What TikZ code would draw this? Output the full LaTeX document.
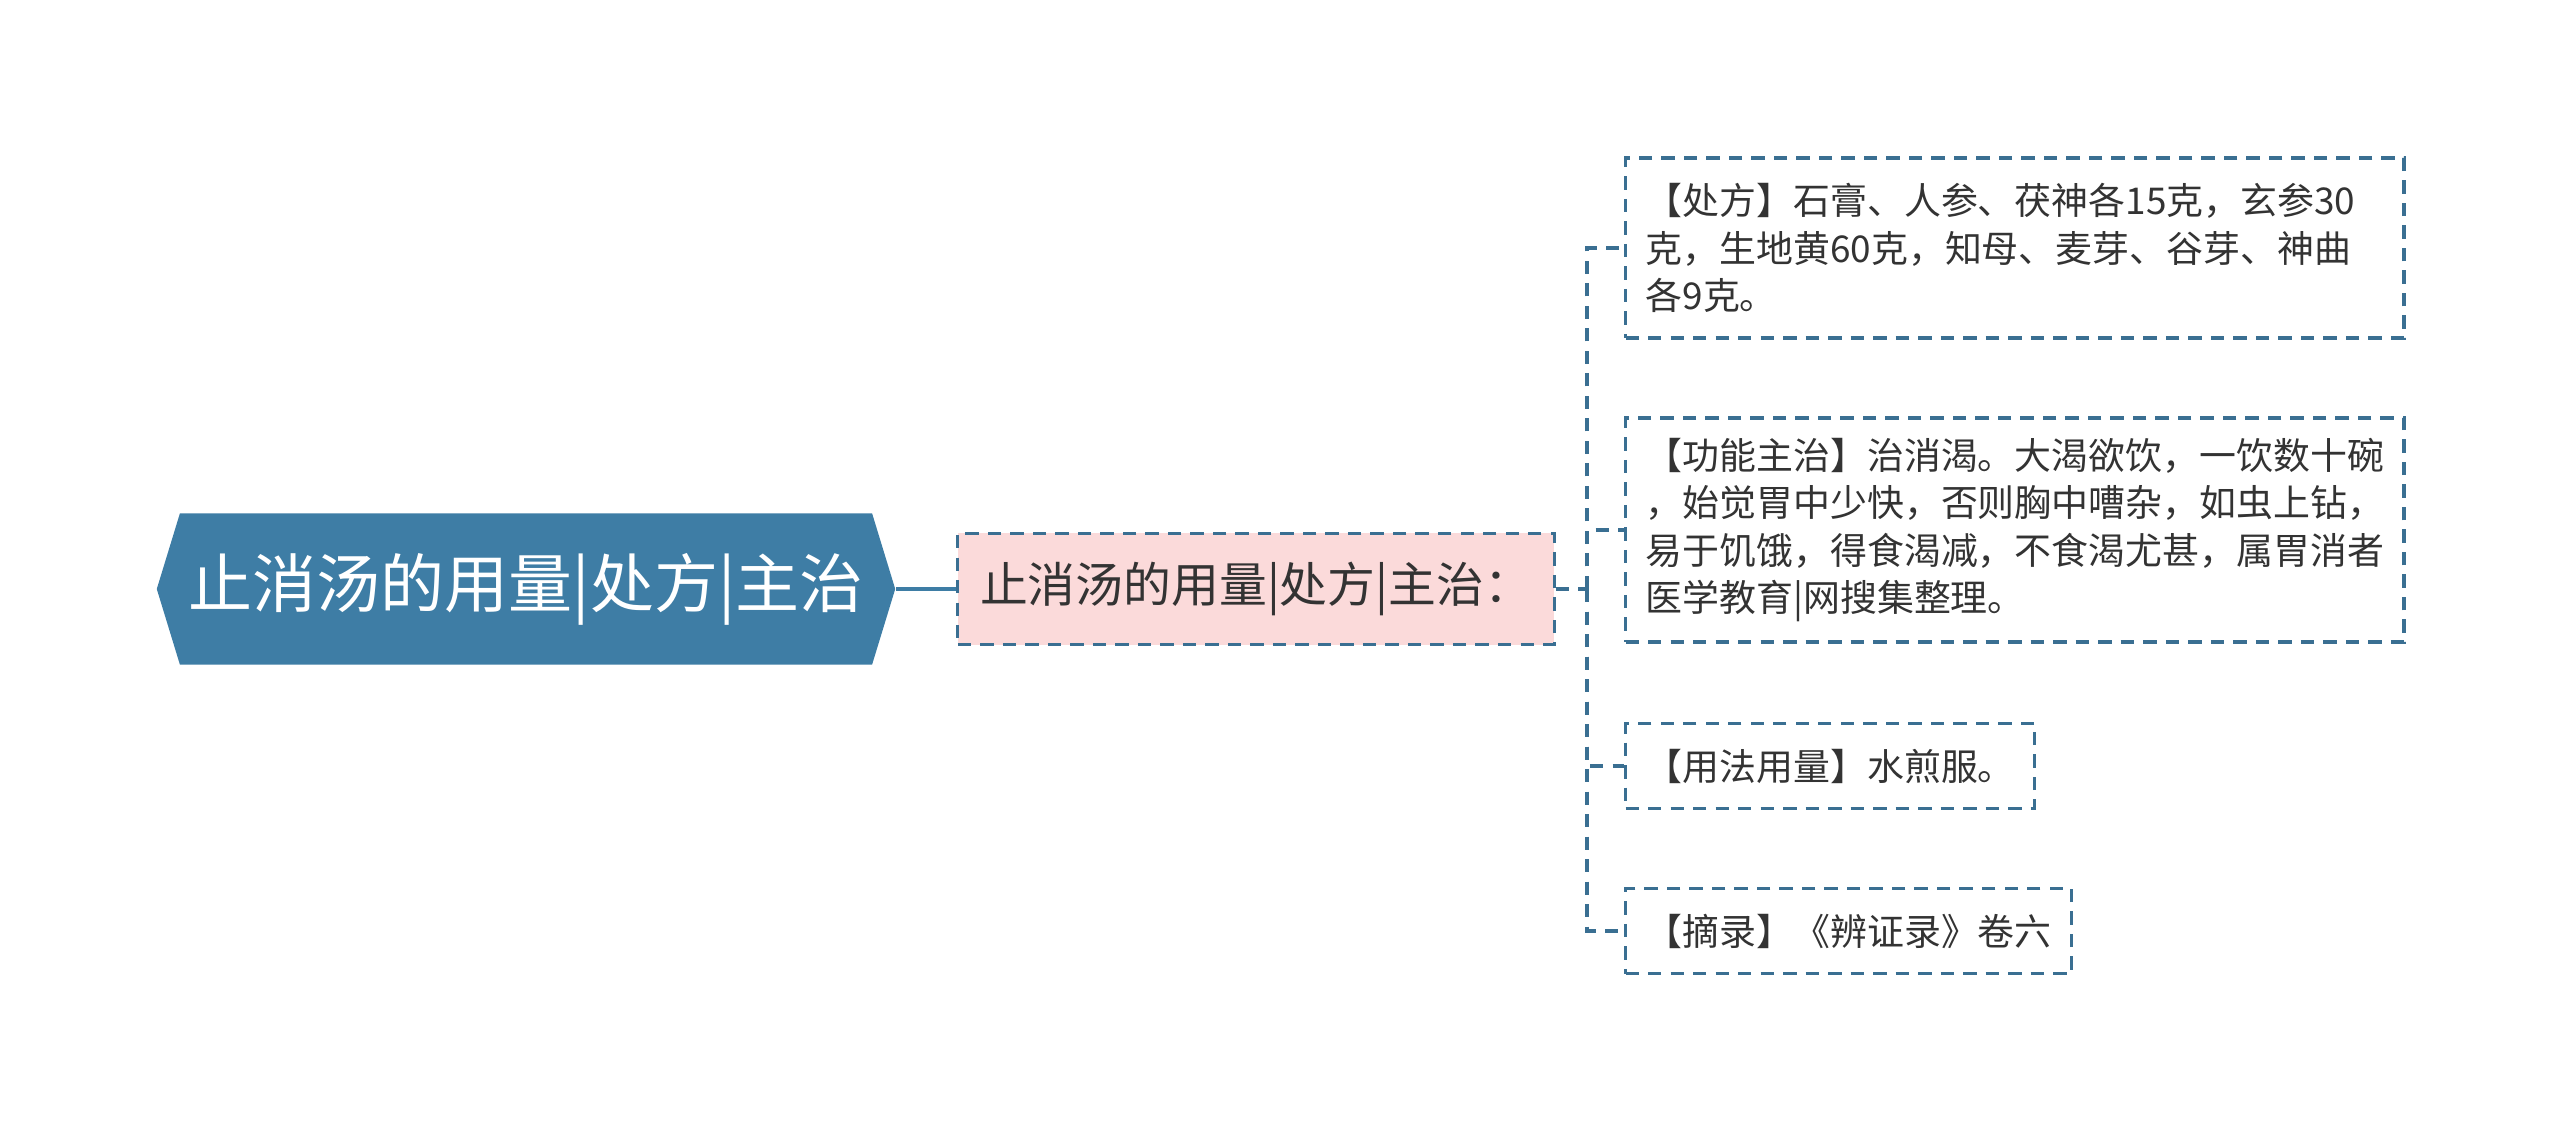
\documentclass[tikz,border=0pt]{standalone}
\usepackage{fontspec}
\newfontfamily\cjk{Noto Sans CJK SC}
\usetikzlibrary{shapes.symbols}
\definecolor{hexblue}{RGB}{62,125,165}
\definecolor{dashblue}{RGB}{58,111,146}
\definecolor{subpink}{RGB}{251,218,218}
\definecolor{inkgray}{RGB}{51,51,51}
\begin{document}
\begin{tikzpicture}[x=0.01cm,y=-0.01cm,
                    rootbox/.style={signal,signal to=west and east,signal pointer angle=146,fill=hexblue,text=white,font=\cjk\fontsize{18.2}{22}\selectfont,minimum width=7.38cm,minimum height=1.51cm,inner sep=0pt},
                    subbox/.style={draw=dashblue,line width=0.9pt,dash pattern=on 3.8pt off 2.6pt,fill=subpink,text=inkgray,font=\cjk\fontsize{13.6}{16}\selectfont,minimum width=5.96cm,minimum height=1.11cm},
                    leafbox/.style={draw=dashblue,line width=0.9pt,dash pattern=on 3.8pt off 2.6pt,text=inkgray,font=\cjk\fontsize{10.5}{13.4}\selectfont,align=left,anchor=west,inner xsep=0.2cm,minimum height=0.85cm},
                    link/.style={draw=dashblue,line width=0.9pt,dash pattern=on 3.8pt off 2.6pt}]
    \useasboundingbox (0,0) rectangle (2560,1131);
    \node[rootbox] at (526,589) (root) {止消汤的用量|处方|主治};
    \node[subbox] at (1256,589) (sub) {止消汤的用量|处方|主治：};
    \node[leafbox,text width=7.38cm,minimum height=1.80cm] at (1624,248) (pf) {【处方】石膏、人参、茯神各15克，玄参30\\克，生地黄60克，知母、麦芽、谷芽、神曲\\各9克。};
    \node[leafbox,text width=7.38cm,minimum height=2.24cm] at (1624,530) (gn) {【功能主治】治消渴。大渴欲饮，一饮数十碗\\，始觉胃中少快，否则胸中嘈杂，如虫上钻，\\易于饥饿，得食渴减，不食渴尤甚，属胃消者\\医学教育|网搜集整理。};
    \node[leafbox] at (1624,766) (yf) {【用法用量】水煎服。};
    \node[leafbox] at (1624,931) (zl) {【摘录】《辨证录》卷六};
    \coordinate (hub) at (1587,589);
    \draw[hexblue,line width=1.2pt] (root.east) -- (sub.west);
    \draw[link] (sub.east) -- (hub);
    \foreach \leaf in {pf,gn,yf,zl}
        \draw[link] (hub) |- (\leaf.west);
\end{tikzpicture}
\end{document}
